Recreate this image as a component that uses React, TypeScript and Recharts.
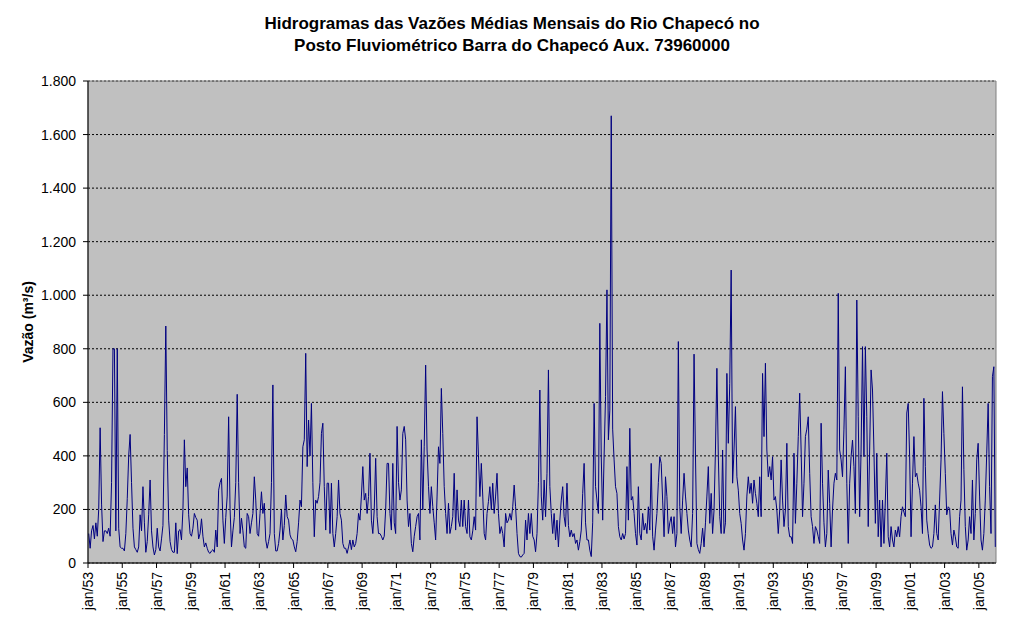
import React from "react";
import { LineChart, Line, XAxis, YAxis, CartesianGrid, ReferenceArea } from "recharts";

const FONT = "Arial, 'Liberation Sans', Helvetica, sans-serif";

const startYear = 1953;
const months = ["jan", "fev", "mar", "abr", "mai", "jun", "jul", "ago", "set", "out", "nov", "dez"];

// vazões médias mensais (m³/s), jan a dez de cada ano
const flows1950s = [
  110, 55, 120, 140, 90, 150, 100, 200, 505, 220, 80, 120, // 1953
  120, 110, 130, 100, 300, 800, 800, 120, 800, 130, 60, 55, // 1954
  55, 45, 110, 240, 400, 480, 300, 130, 60, 50, 40, 60, // 1955
  180, 120, 285, 150, 40, 80, 180, 310, 120, 60, 30, 50, // 1956
  130, 60, 45, 90, 140, 480, 885, 420, 160, 80, 50, 40, // 1957
  40, 150, 35, 120, 125, 86, 200, 460, 285, 355, 180, 110, // 1958
  100, 130, 185, 170, 160, 90, 110, 165, 100, 60, 75, 55, // 1959
];

const flows1960s = [
  40, 36, 45, 50, 40, 123, 60, 272, 300, 316, 160, 73, // 1960
  170, 250, 546, 204, 60, 120, 170, 300, 630, 300, 110, 167, // 1961
  120, 60, 55, 185, 173, 110, 150, 185, 322, 235, 110, 100, // 1962
  185, 266, 185, 223, 86, 55, 80, 110, 300, 665, 110, 45, // 1963
  45, 73, 123, 198, 86, 140, 254, 173, 160, 105, 90, 86, // 1964
  60, 42, 80, 150, 235, 210, 434, 460, 783, 360, 534, 400, // 1965
  596, 300, 98, 235, 223, 248, 300, 484, 522, 285, 123, 298, // 1966
  298, 110, 298, 110, 60, 110, 173, 310, 185, 160, 73, 55, // 1967
  55, 36, 60, 86, 50, 86, 60, 73, 110, 185, 160, 250, // 1968
  360, 235, 260, 185, 248, 410, 160, 110, 200, 391, 173, 110, // 1969
];

const flows1970s = [
  110, 100, 86, 100, 200, 372, 372, 185, 123, 372, 150, 110, // 1970
  510, 300, 235, 273, 484, 510, 460, 235, 136, 185, 73, 42, // 1971
  100, 136, 173, 185, 86, 460, 198, 434, 739, 422, 285, 185, // 1972
  285, 210, 150, 86, 250, 434, 372, 652, 484, 285, 185, 110, // 1973
  223, 110, 136, 173, 335, 123, 273, 160, 136, 235, 136, 235, // 1974
  136, 110, 235, 98, 86, 120, 173, 123, 546, 400, 248, 372, // 1975
  250, 110, 86, 185, 230, 285, 198, 298, 185, 250, 335, 185, // 1976
  110, 136, 110, 60, 185, 150, 160, 185, 160, 210, 291, 210, // 1977
  110, 36, 24, 22, 30, 36, 160, 86, 185, 110, 185, 100, // 1978
  86, 42, 110, 300, 646, 250, 160, 310, 173, 335, 721, 285, // 1979
];

const flows1980s = [
  185, 110, 185, 86, 160, 60, 160, 235, 285, 173, 136, 298, // 1980
  140, 98, 123, 98, 110, 73, 86, 48, 80, 123, 260, 372, // 1981
  150, 86, 86, 48, 24, 150, 596, 285, 235, 185, 895, 400, // 1982
  160, 400, 621, 1020, 460, 571, 1670, 500, 385, 285, 260, 136, // 1983
  98, 86, 110, 90, 110, 360, 160, 503, 235, 248, 185, 110, // 1984
  67, 285, 110, 86, 185, 123, 148, 110, 210, 123, 372, 100, // 1985
  48, 123, 185, 300, 397, 372, 235, 98, 322, 248, 110, 150, // 1986
  173, 110, 173, 60, 110, 827, 210, 110, 235, 335, 250, 185, // 1987
  123, 86, 60, 185, 780, 400, 73, 50, 36, 73, 130, 60, // 1988
  150, 250, 360, 148, 260, 110, 198, 422, 727, 400, 173, 110, // 1989
];

const flows1990s = [
  422, 110, 150, 708, 447, 671, 1094, 298, 422, 584, 322, 272, // 1990
  185, 148, 86, 48, 110, 250, 322, 260, 298, 223, 310, 260, // 1991
  223, 173, 322, 173, 708, 472, 746, 422, 322, 360, 310, 397, // 1992
  235, 248, 198, 110, 198, 385, 235, 136, 198, 447, 136, 98, // 1993
  98, 73, 410, 148, 298, 472, 634, 422, 173, 298, 472, 500, // 1994
  546, 335, 173, 136, 73, 136, 123, 98, 73, 522, 298, 150, // 1995
  60, 110, 347, 223, 60, 200, 298, 335, 310, 1007, 422, 385, // 1996
  322, 500, 733, 298, 73, 298, 397, 459, 360, 185, 982, 546, // 1997
  173, 422, 808, 397, 808, 546, 136, 422, 721, 646, 422, 148, // 1998
  410, 98, 235, 60, 235, 73, 235, 410, 98, 60, 136, 86, // 1999
];

const flows2000s = [
  60, 123, 98, 136, 98, 173, 210, 190, 173, 560, 596, 397, // 2000
  98, 298, 472, 322, 335, 298, 272, 210, 110, 615, 360, 160, // 2001
  110, 67, 55, 60, 110, 217, 110, 86, 235, 385, 640, 484, // 2002
  335, 180, 210, 204, 110, 67, 123, 98, 60, 55, 173, 235, // 2003
  658, 350, 136, 48, 86, 173, 110, 310, 86, 185, 385, 447, // 2004
  250, 86, 48, 110, 235, 410, 596, 285, 110, 696, 733, 60, // 2005
];

const xTickLabels = [
  "jan/53", "jan/55", "jan/57", "jan/59", "jan/61", "jan/63", "jan/65", "jan/67", "jan/69",
  "jan/71", "jan/73", "jan/75", "jan/77", "jan/79", "jan/81", "jan/83", "jan/85", "jan/87",
  "jan/89", "jan/91", "jan/93", "jan/95", "jan/97", "jan/99", "jan/01", "jan/03", "jan/05",
];

const yTicks = [0, 200, 400, 600, 800, 1000, 1200, 1400, 1600, 1800];

const monthlyFlows = [...flows1950s, ...flows1960s, ...flows1970s, ...flows1980s, ...flows1990s, ...flows2000s];

const data = monthlyFlows.map((vazao, i) => ({
  i,
  mes: `${months[i % 12]}/${String((startYear + Math.floor(i / 12)) % 100).padStart(2, "0")}`,
  vazao,
}));

// Excel-style category axis: ticks sit on the boundaries between months
const xTicks = xTickLabels.map((_, k) => k * 24 - 0.5);

const fmtThousands = (v: number) =>
  v >= 1000 ? `${Math.floor(v / 1000)}.${String(v % 1000).padStart(3, "0")}` : String(v);

function XTick(props: any) {
  const { x, y, payload } = props;
  const k = Math.round((payload.value + 0.5) / 24);
  return (
    <text
      x={x}
      y={y}
      transform={`rotate(-90, ${x}, ${y})`}
      textAnchor="end"
      dominantBaseline="central"
      fontSize={14}
      fontFamily={FONT}
      fill="#000"
    >
      {xTickLabels[k]}
    </text>
  );
}

export default function App() {
  return (
    <div style={{ position: "absolute", left: 0, top: 0, width: 1024, height: 633, background: "#fff", fontFamily: FONT }}>
      <LineChart width={1024} height={633} data={data} margin={{ top: 81, right: 28, bottom: 0, left: 28 }}>
        <CartesianGrid horizontal vertical={false} stroke="#000" strokeDasharray="2 2" fill="#C0C0C0" />
        <ReferenceArea x1={-0.5} x2={635.5} y1={0} y2={1800} fill="none" stroke="#808080" />
        <XAxis
          type="number"
          dataKey="i"
          domain={[-0.5, 635.5]}
          ticks={xTicks}
          interval={0}
          height={70}
          tick={<XTick />}
          tickSize={5}
          tickMargin={4}
          axisLine={{ stroke: "#000" }}
          tickLine={{ stroke: "#000" }}
        />
        <YAxis
          domain={[0, 1800]}
          ticks={yTicks}
          interval={0}
          width={60}
          tickFormatter={fmtThousands}
          tickSize={5}
          tickMargin={7}
          tick={{ fill: "#000", fontSize: 14, fontFamily: FONT }}
          axisLine={{ stroke: "#000" }}
          tickLine={{ stroke: "#000" }}
        />
        <Line
          type="linear"
          dataKey="vazao"
          stroke="#000080"
          strokeWidth={1}
          dot={false}
          isAnimationActive={false}
        />
      </LineChart>
      <div
        style={{
          position: "absolute",
          left: 0,
          top: 13,
          width: 1024,
          textAlign: "center",
          fontWeight: "bold",
          fontSize: 17,
          lineHeight: "22px",
          color: "#000",
        }}
      >
        Hidrogramas das Vazões Médias Mensais do Rio Chapecó no
        <br />
        Posto Fluviométrico Barra do Chapecó Aux. 73960000
      </div>
      <div
        style={{
          position: "absolute",
          left: 28,
          top: 322,
          transform: "translate(-50%, -50%) rotate(-90deg)",
          fontWeight: "bold",
          fontSize: 14,
          whiteSpace: "nowrap",
          color: "#000",
        }}
      >
        Vazão (m³/s)
      </div>
    </div>
  );
}
